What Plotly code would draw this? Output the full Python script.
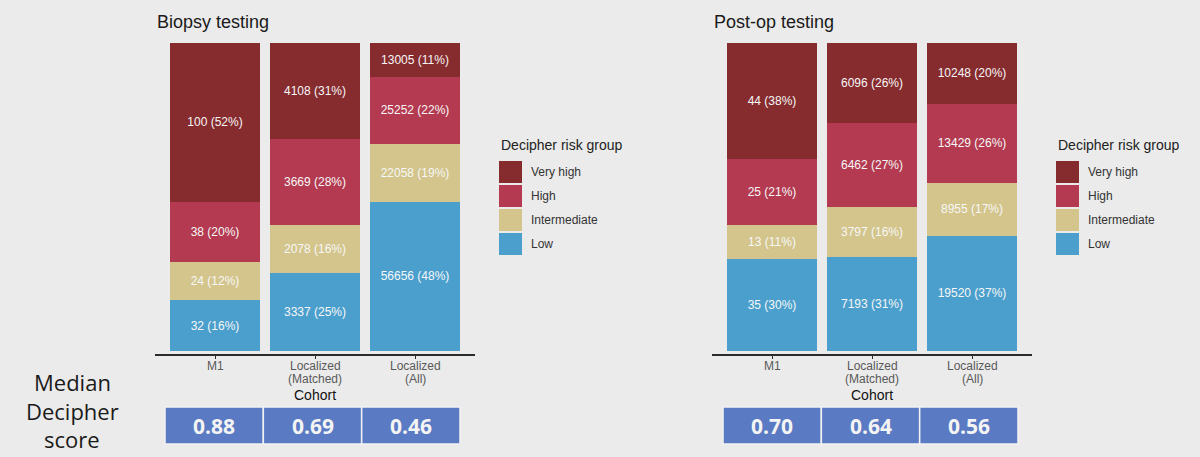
import plotly.graph_objects as go

W, H = 1200, 457

# ---------------- data ----------------
cohorts = ["M1", "Localized<br>(Matched)", "Localized<br>(All)"]
risk_groups = ["Very high", "High", "Intermediate", "Low"]

biopsy_very_high = [100, 4108, 13005]
biopsy_high = [38, 3669, 25252]
biopsy_intermediate = [24, 2078, 22058]
biopsy_low = [32, 3337, 56656]

postop_very_high = [44, 6096, 10248]
postop_high = [25, 6462, 13429]
postop_intermediate = [13, 3797, 8955]
postop_low = [35, 7193, 19520]

biopsy_median = ["0.88", "0.69", "0.46"]
postop_median = ["0.70", "0.64", "0.56"]

panel_titles = ["Biopsy testing", "Post-op testing"]

# ---------------- style ----------------
colors = {"Very high": "#862b2e", "High": "#b33a50", "Intermediate": "#d3c58c", "Low": "#4a9fcd"}
bg = "#ebebeb"
box_blue = "#5a7bc3"


def px(x):
    return x / W


def py(y):
    return 1 - y / H


panels = [
    dict(data={"Very high": biopsy_very_high, "High": biopsy_high,
               "Intermediate": biopsy_intermediate, "Low": biopsy_low},
         medians=biopsy_median, xref="x", x0=155, legend_x=499, box_x0=165, box_x1=460, title=panel_titles[0]),
    dict(data={"Very high": postop_very_high, "High": postop_high,
               "Intermediate": postop_intermediate, "Low": postop_low},
         medians=postop_median, xref="x2", x0=712, legend_x=1056, box_x0=723, box_x1=1018, title=panel_titles[1]),
]

fig = go.Figure()
shapes = []
annotations = []

for p in panels:
    data = p["data"]
    totals = [sum(data[g][i] for g in risk_groups) for i in range(len(cohorts))]
    for g in ["Low", "Intermediate", "High", "Very high"]:
        vals = data[g]
        shares = [v / t for v, t in zip(vals, totals)]
        labels = [f"{v} ({s * 100:.0f}%)" for v, s in zip(vals, shares)]
        fig.add_trace(go.Bar(
            x=cohorts, y=shares, name=g, width=0.9,
            marker=dict(color=colors[g], line=dict(width=0)),
            text=labels, textposition="inside", insidetextanchor="middle",
            textangle=0, constraintext="none",
            textfont=dict(size=12, color="#f7f7f7", family="Liberation Sans, Arial"),
            xaxis=p["xref"], yaxis="y" if p["xref"] == "x" else "y2",
            showlegend=False, hoverinfo="skip",
        ))

    # tick labels (as text below the axis, one line each)
    for c in cohorts:
        for j, line in enumerate(c.split("<br>")):
            annotations.append(dict(text=line, x=c, y=py(366 + 13 * j), xref=p["xref"], yref="paper",
                                    xanchor="center", yanchor="middle", showarrow=False,
                                    font=dict(size=12, color="#595959", family="Liberation Sans, Arial")))

    # panel title
    annotations.append(dict(text=p["title"], x=px(p["x0"]), y=py(22), xref="paper", yref="paper",
                            xanchor="left", yanchor="middle", showarrow=False,
                            font=dict(size=18, color="#1a1a1a", family="Liberation Sans, Arial")))
    # axis title
    annotations.append(dict(text="Cohort", x=px(p["x0"] + 160), y=py(395), xref="paper", yref="paper",
                            xanchor="center", yanchor="middle", showarrow=False,
                            font=dict(size=14, color="#111111", family="Liberation Sans, Arial")))
    # legend
    lx = p["legend_x"]
    annotations.append(dict(text="Decipher risk group", x=px(lx), y=py(145), xref="paper", yref="paper",
                            xanchor="left", yanchor="middle", showarrow=False,
                            font=dict(size=14, color="#222222", family="Liberation Sans, Arial")))
    for i, g in enumerate(risk_groups):
        top = 161 + i * 24
        shapes.append(dict(type="rect", xref="paper", yref="paper",
                           x0=px(lx), x1=px(lx + 23), y0=py(top + 22), y1=py(top),
                           fillcolor=colors[g], line=dict(width=0)))
        annotations.append(dict(text=g, x=px(lx + 30), y=py(top + 11), xref="paper", yref="paper",
                                xanchor="left", yanchor="middle", showarrow=False,
                                font=dict(size=12, color="#333333", family="Liberation Sans, Arial")))
    # median boxes
    bx0, bx1 = p["box_x0"], p["box_x1"]
    cw = (bx1 - bx0) / 3
    for i, m in enumerate(p["medians"]):
        shapes.append(dict(type="rect", xref="paper", yref="paper",
                           x0=px(bx0 + i * cw), x1=px(bx0 + (i + 1) * cw), y0=py(444), y1=py(407),
                           fillcolor=box_blue, line=dict(color="#f2f2f2", width=1.5)))
        annotations.append(dict(text=f"<b>{m}</b>", x=px(bx0 + (i + 0.5) * cw), y=py(426), xref="paper",
                                yref="paper", xanchor="center", yanchor="middle", showarrow=False,
                                font=dict(size=21, color="#f4f4f4", family="Open Sans")))

for txt, yy in [("Median", 382), ("Decipher", 411), ("score", 439)]:
    annotations.append(dict(text=txt, x=px(72), y=py(yy), xref="paper", yref="paper",
                            xanchor="center", yanchor="middle", showarrow=False,
                            font=dict(size=22, color="#1a1a1a", family="Open Sans")))

y_dom = [py(354), py(43)]
xaxis_common = dict(range=[-0.6, 2.6], showline=True, linecolor="#2b2b2b", linewidth=1.6,
                    ticks="outside", ticklen=3, tickcolor="#2b2b2b", tickwidth=1,
                    showticklabels=False,
                    showgrid=False, zeroline=False, fixedrange=True)
yaxis_common = dict(range=[-0.01, 1.0], domain=y_dom, visible=False, showgrid=False, zeroline=False)

fig.update_layout(
    width=W, height=H, barmode="stack", bargap=0.1,
    paper_bgcolor=bg, plot_bgcolor=bg,
    margin=dict(l=0, r=0, t=0, b=0),
    xaxis=dict(domain=[px(155), px(475)], anchor="y", **xaxis_common),
    xaxis2=dict(domain=[px(712), px(1032)], anchor="y2", **xaxis_common),
    yaxis=dict(anchor="x", **yaxis_common),
    yaxis2=dict(anchor="x2", **yaxis_common),
    shapes=shapes, annotations=annotations, showlegend=False,
)

fig.write_html("out.html")
